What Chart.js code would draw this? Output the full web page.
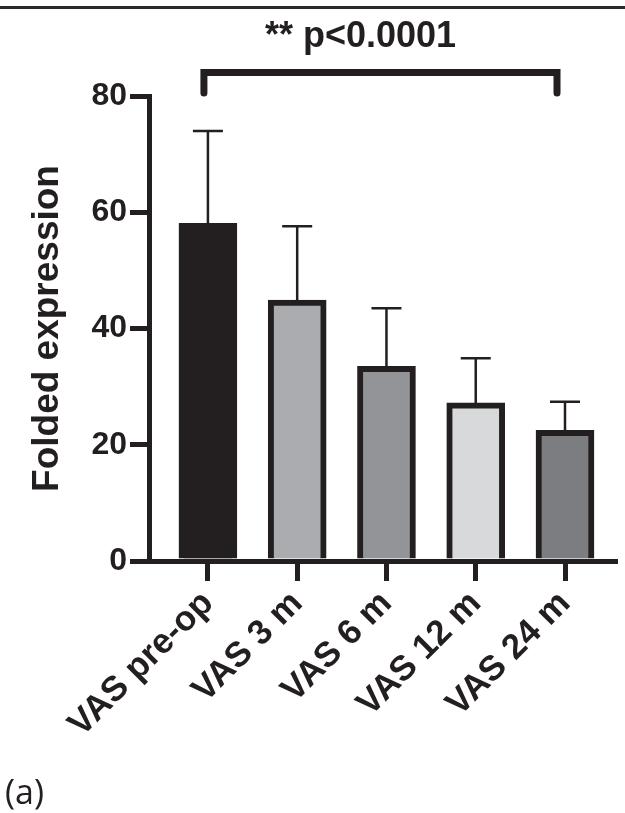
<!DOCTYPE html>
<html>
<head>
<meta charset="utf-8">
<script src="https://cdn.jsdelivr.net/npm/chart.js@4/dist/chart.umd.min.js"></script>
<style>
  html, body { margin: 0; padding: 0; background: #ffffff; }
  #wrap { width: 625px; height: 813px; }
</style>
</head>
<body>
<div id="wrap"><canvas id="c" width="625" height="813"></canvas></div>
<script>
const categories = ['VAS pre-op', 'VAS 3 m', 'VAS 6 m', 'VAS 12 m', 'VAS 24 m'];
const means = [58.1, 44.9, 33.5, 27.2, 22.5];
const errors = [15.9, 12.7, 10.0, 7.7, 4.9];
const yTicks = [0, 20, 40, 60, 80];
const fills = ['#231f20', '#abacaf', '#939498', '#d8d9da', '#7c7d81'];
const pLabel = '** p<0.0001';
const yTitle = 'Folded expression';
const panelLabel = '(a)';

const INK = '#231f20';
const FONT = '"Liberation Sans", Arial, sans-serif';

const decorPlugin = {
  id: 'decor',
  beforeDraw(chart) {
    const ctx = chart.ctx;
    ctx.save();
    ctx.fillStyle = '#ffffff';
    ctx.fillRect(0, 0, chart.width, chart.height);
    ctx.strokeStyle = '#2a2a2a';
    ctx.lineWidth = 3;
    ctx.beginPath();
    ctx.moveTo(0, 7.5);
    ctx.lineTo(chart.width, 7.5);
    ctx.stroke();
    ctx.restore();
  },
  afterDatasetsDraw(chart) {
    const ctx = chart.ctx;
    const xs = chart.scales.x, ys = chart.scales.y;
    const meta = chart.getDatasetMeta(0);
    ctx.save();
    ctx.strokeStyle = INK;
    ctx.lineWidth = 2.5;
    meta.data.forEach((el, i) => {
      const top = ys.getPixelForValue(means[i] + errors[i]);
      ctx.beginPath();
      ctx.moveTo(el.x, el.y);
      ctx.lineTo(el.x, top);
      ctx.moveTo(el.x - 15, top);
      ctx.lineTo(el.x + 15, top);
      ctx.stroke();
    });
    const x0 = xs.getPixelForValue(0) - 4;
    const x1 = xs.getPixelForValue(categories.length - 1) - 8;
    ctx.lineWidth = 7;
    ctx.lineCap = 'round';
    ctx.beginPath();
    ctx.moveTo(x0, 93);
    ctx.lineTo(x0, 72.5);
    ctx.lineTo(x1, 72.5);
    ctx.lineTo(x1, 93);
    ctx.stroke();
    ctx.fillStyle = INK;
    ctx.font = 'bold 36px ' + FONT;
    ctx.textAlign = 'center';
    ctx.textBaseline = 'alphabetic';
    ctx.fillText(pLabel, (x0 + x1) / 2 - 20, 47);
    ctx.font = '34px "Open Sans", sans-serif';
    ctx.textAlign = 'left';
    ctx.fillText(panelLabel, 5, 804);
    ctx.restore();
  }
};

new Chart(document.getElementById('c'), {
  type: 'bar',
  data: {
    datasets: [{
      data: categories.map((c, i) => ({ x: i, y: means[i] })),
      backgroundColor: fills,
      borderColor: INK,
      borderWidth: 6,
      borderSkipped: 'start',
      barThickness: 58
    }]
  },
  options: {
    responsive: false,
    animation: false,
    layout: { padding: { left: 0, right: 10, top: 96, bottom: 0 } },
    plugins: { legend: { display: false }, tooltip: { enabled: false }, title: { display: false } },
    scales: {
      x: {
        type: 'linear',
        offset: false,
        min: -0.66,
        max: 4.56,
        afterBuildTicks(scale) { scale.ticks = categories.map((c, i) => ({ value: i })); },
        afterFit(scale) { scale.height = 252; },
        grid: { offset: false, drawOnChartArea: false, drawTicks: true, tickLength: 20, lineWidth: 5, color: INK },
        border: { display: true, width: 5, color: INK },
        ticks: {
          autoSkip: false,
          minRotation: 45,
          maxRotation: 45,
          padding: 2,
          color: INK,
          font: { family: FONT, size: 35, weight: 'bold' },
          callback: (v) => categories[v] !== undefined ? categories[v] : ''
        }
      },
      y: {
        min: 0,
        max: 80,
        afterBuildTicks(scale) { scale.ticks = yTicks.map(v => ({ value: v })); },
        afterFit(scale) { scale.width = 149; },
        grid: { drawOnChartArea: false, drawTicks: true, tickLength: 19, lineWidth: 5, color: INK },
        border: { display: true, width: 5, color: INK },
        ticks: {
          padding: 3,
          color: INK,
          font: { family: FONT, size: 32, weight: 'bold' }
        },
        title: {
          display: true,
          text: yTitle,
          color: INK,
          font: { family: FONT, size: 37, weight: 'bold' },
          padding: { top: 26, bottom: 0 }
        }
      }
    }
  },
  plugins: [decorPlugin]
});
</script>
</body>
</html>
